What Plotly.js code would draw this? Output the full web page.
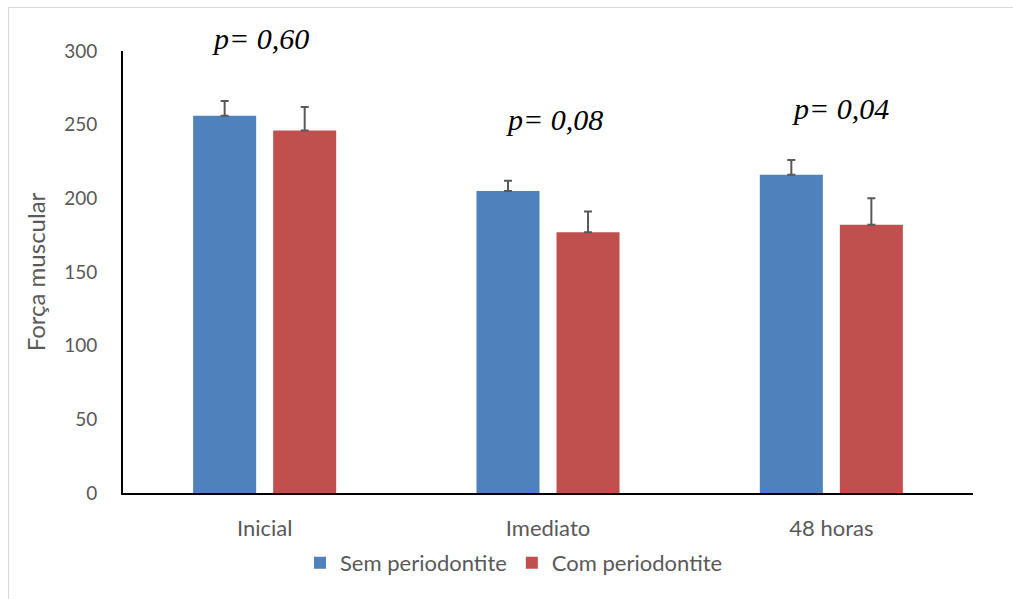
<!DOCTYPE html>
<html>
<head>
<meta charset="utf-8">
<script src="https://cdn.plot.ly/plotly-3.0.1.min.js"></script>
<style>
html,body{margin:0;padding:0;background:#fff;}
#wrap{position:relative;width:1013px;height:599px;overflow:hidden;}
#chart{position:absolute;left:0;top:0;width:1013px;height:599px;}
#frame{position:absolute;left:8px;top:7px;width:1100px;height:700px;border-left:1.5px solid #d9d9d9;border-top:1.5px solid #d9d9d9;pointer-events:none;}
</style>
</head>
<body>
<div id="wrap"><div id="chart"></div><div id="frame"></div></div>
<script>
const categories = ["Inicial", "Imediato", "48 horas"];
const semValues = [256, 205, 216];
const semErrors = [10, 7, 10];
const comValues = [246, 177, 182];
const comErrors = [16, 14, 18];
const pLabels = ["p= 0,60", "p= 0,08", "p= 0,04"];
const yTicks = [0, 50, 100, 150, 200, 250, 300];

const fontFam = "Lato, 'Open Sans', 'Liberation Sans', sans-serif";
const gray = "#595959";

const traces = [
  {
    type: "bar", name: "Sem periodontite", x: categories, y: semValues,
    marker: {color: "#4F81BD"},
    error_y: {type: "data", array: semErrors, arrayminus: [0,0,0], symmetric: false,
              color: "#595959", thickness: 2, width: 4}
  },
  {
    type: "bar", name: "Com periodontite", x: categories, y: comValues,
    marker: {color: "#C0504D"},
    error_y: {type: "data", array: comErrors, arrayminus: [0,0,0], symmetric: false,
              color: "#595959", thickness: 2, width: 4}
  }
];

const pPos = [[0.162, 1.029], [0.508, 0.844], [0.844, 0.871]];
const annotations = pLabels.map((t, i) => ({
  text: "<i>" + t + "</i>", xref: "paper", yref: "paper",
  x: pPos[i][0], y: pPos[i][1], xanchor: "center", yanchor: "middle",
  showarrow: false,
  font: {family: "'Liberation Serif', 'Times New Roman', serif", size: 30, color: "#000"}
}));

const layout = {
  width: 1013, height: 599,
  margin: {l: 123, r: 40, t: 51, b: 106, pad: 0},
  paper_bgcolor: "#fff", plot_bgcolor: "#fff",
  barmode: "group", bargap: 0.435, bargroupgap: 0.2125,
  font: {family: fontFam, color: gray, size: 19},
  xaxis: {
    type: "category", showgrid: false, zeroline: false,
    showline: true, linecolor: "#000", linewidth: 2,
    ticks: "", ticklabelstandoff: 15,
    tickfont: {family: fontFam, size: 22, color: gray}
  },
  yaxis: {
    range: [0, 300], tickvals: yTicks, ticktext: yTicks.map(String),
    showgrid: false, zeroline: false,
    showline: true, linecolor: "#000", linewidth: 2,
    ticks: "", ticklabelstandoff: 20,
    tickfont: {family: fontFam, size: 19, color: gray},
    title: {text: "Força muscular", standoff: 12, font: {family: fontFam, size: 24, color: gray}}
  },
  showlegend: true,
  legend: {
    orientation: "h", x: 0.46, xanchor: "center", y: -0.158, yanchor: "middle",
    font: {family: fontFam, size: 22, color: gray},
    itemwidth: 30, traceorder: "normal", bgcolor: "rgba(0,0,0,0)"
  },
  annotations: annotations
};

Plotly.newPlot("chart", traces, layout, {displayModeBar: false, staticPlot: true});
</script>
</body>
</html>
